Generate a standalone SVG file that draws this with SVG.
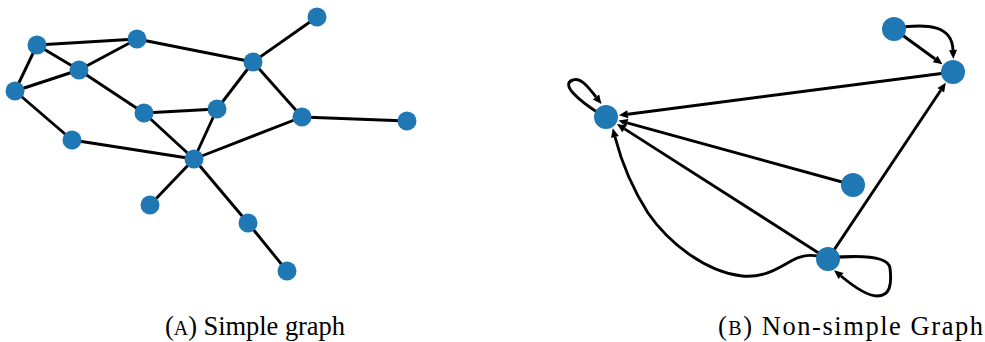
<svg xmlns="http://www.w3.org/2000/svg" width="985" height="342" viewBox="0 0 985 342">
<style>
.e{stroke:#000;stroke-width:2.9;fill:none}
.n{fill:#1f77b4}
.cap{font-family:"Liberation Serif","Times New Roman",serif;font-size:26.5px;fill:#000}
</style>
<defs>
<marker id="ar" markerUnits="userSpaceOnUse" viewBox="-1 -5 11 10" refX="0" refY="0" markerWidth="11" markerHeight="10" orient="auto" overflow="visible">
<path d="M0,-4 L9,0 L0,4 z" fill="#000"/>
</marker>
</defs>
<g id="connectors-a">
<line class="e" x1="37" y1="45" x2="137" y2="39"/>
<line class="e" x1="37" y1="45" x2="79" y2="70"/>
<line class="e" x1="37" y1="45" x2="15" y2="91"/>
<line class="e" x1="79" y1="70" x2="137" y2="39"/>
<line class="e" x1="79" y1="70" x2="15" y2="91"/>
<line class="e" x1="15" y1="91" x2="72" y2="140"/>
<line class="e" x1="79" y1="70" x2="144" y2="113"/>
<line class="e" x1="137" y1="39" x2="253" y2="62"/>
<line class="e" x1="253" y1="62" x2="317" y2="17"/>
<line class="e" x1="253" y1="62" x2="217" y2="109"/>
<line class="e" x1="253" y1="62" x2="302" y2="117"/>
<line class="e" x1="302" y1="117" x2="407" y2="121"/>
<line class="e" x1="144" y1="113" x2="217" y2="109"/>
<line class="e" x1="144" y1="113" x2="194" y2="159"/>
<line class="e" x1="217" y1="109" x2="194" y2="159"/>
<line class="e" x1="72" y1="140" x2="194" y2="159"/>
<line class="e" x1="194" y1="159" x2="302" y2="117"/>
<line class="e" x1="194" y1="159" x2="150" y2="205"/>
<line class="e" x1="194" y1="159" x2="248" y2="223"/>
<line class="e" x1="248" y1="223" x2="287" y2="271"/>
</g>
<g id="nodes-a">
<g id="a1"><circle class="n" cx="37" cy="45" r="9.5"/></g>
<g id="a2"><circle class="n" cx="137" cy="39" r="9.5"/></g>
<g id="a3"><circle class="n" cx="79" cy="70" r="9.5"/></g>
<g id="a4"><circle class="n" cx="15" cy="91" r="9.5"/></g>
<g id="a5"><circle class="n" cx="72" cy="140" r="9.5"/></g>
<g id="a6"><circle class="n" cx="144" cy="113" r="9.5"/></g>
<g id="a7"><circle class="n" cx="217" cy="109" r="9.5"/></g>
<g id="a8"><circle class="n" cx="253" cy="62" r="9.5"/></g>
<g id="a9"><circle class="n" cx="317" cy="17" r="9.5"/></g>
<g id="a10"><circle class="n" cx="302" cy="117" r="9.5"/></g>
<g id="a11"><circle class="n" cx="407" cy="121" r="9.5"/></g>
<g id="a12"><circle class="n" cx="194" cy="159" r="9.5"/></g>
<g id="a13"><circle class="n" cx="150" cy="205" r="9.5"/></g>
<g id="a14"><circle class="n" cx="248" cy="223" r="9.5"/></g>
<g id="a15"><circle class="n" cx="287" cy="271" r="9.5"/></g>
</g>
<g id="connectors-b">
<path class="e" marker-end="url(#ar)" d="M953,72 L627.8,114.2"/>
<path class="e" marker-end="url(#ar)" d="M853,185 L627.2,122.8"/>
<path class="e" marker-end="url(#ar)" d="M828,259 L624.5,128.9"/>
<path class="e" marker-end="url(#ar)" d="M828,259 L940.8,90.3"/>
<path class="e" marker-end="url(#ar)" d="M894,29 L935.2,59"/>
<path class="e" marker-end="url(#ar)" d="M894,28 C930,23 952,26 953,50"/>
<path class="e" marker-end="url(#ar)" d="M600,114 C578,100 560,84 573,80 C581,77 589,88 596,97"/>
<path class="e" marker-end="url(#ar)" d="M828,258 C860,255 888,256 890,268 C892,285 890,296 877,296 C867,296 853,286 841,276"/>
<path class="e" marker-end="url(#ar)" d="M828,259 C815,254 805,254 793,260 C778,268 765,278 742,276 C705,272 668,242 648,213 C632,188 621,160 615,137"/>
</g>
<g id="nodes-b">
<g id="bA"><circle class="n" cx="606" cy="117" r="12"/></g>
<g id="bB"><circle class="n" cx="894" cy="29" r="12"/></g>
<g id="bC"><circle class="n" cx="953" cy="72" r="12"/></g>
<g id="bD"><circle class="n" cx="853" cy="185" r="12"/></g>
<g id="bE"><circle class="n" cx="828" cy="259" r="12"/></g>
</g>
<g id="captions">
<text class="cap" x="165" y="335" textLength="180" lengthAdjust="spacing">(<tspan font-size="20">A</tspan>) Simple graph</text>
<text class="cap" x="718" y="335" textLength="265" lengthAdjust="spacing">(<tspan font-size="20">B</tspan>) Non-simple Graph</text>
</g>
</svg>
